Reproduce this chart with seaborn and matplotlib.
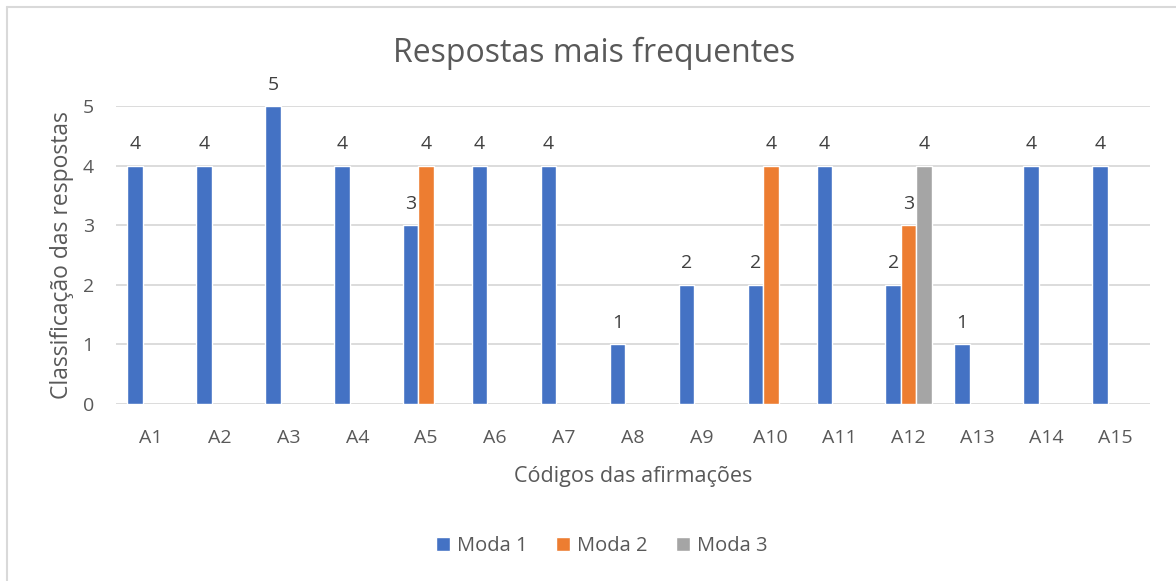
import numpy as np
import pandas as pd
import matplotlib
matplotlib.use("Agg")
import matplotlib.pyplot as plt
import seaborn as sns
from matplotlib.patches import Patch

# Data
codes = ["A1", "A2", "A3", "A4", "A5", "A6", "A7", "A8", "A9", "A10",
         "A11", "A12", "A13", "A14", "A15"]
moda_1 = [4, 4, 5, 4, 3, 4, 4, 1, 2, 2, 4, 2, 1, 4, 4]
moda_2 = [None, None, None, None, 4, None, None, None, None, 4,
          None, 3, None, None, None]
moda_3 = [None, None, None, None, None, None, None, None, None, None,
          None, 4, None, None, None]
series_names = ["Moda 1", "Moda 2", "Moda 3"]

colors = {"Moda 1": "#4472C4", "Moda 2": "#ED7D31", "Moda 3": "#A5A5A5"}
text_color = "#595959"
grid_color = "#D9D9D9"


def main():
    sns.set_theme(style="white")
    plt.rcParams['font.family'] = ['Open Sans', 'DejaVu Sans']

    rows = []
    for name, vals in zip(series_names, [moda_1, moda_2, moda_3]):
        for code, v in zip(codes, vals):
            if v is not None:
                rows.append({"Código": code, "Moda": name, "Valor": v})
    df = pd.DataFrame(rows)

    fig = plt.figure(figsize=(11.76, 5.81), dpi=100)
    ax = fig.add_axes([116 / 1176, 177 / 581, 1034 / 1176, 298 / 581])

    sns.barplot(data=df, x="Código", y="Valor", hue="Moda", order=codes,
                hue_order=series_names, palette=colors, saturation=1,
                width=0.675, edgecolor="white", linewidth=1.0, ax=ax,
                legend=False)

    for cont in ax.containers:
        ax.bar_label(cont, fmt="%g", padding=9, fontsize=14,
                     color="#404040", clip_on=False)

    ax.set_ylim(0, 5)
    ax.set_xlim(-0.5, len(codes) - 0.5)
    ax.set_yticks(range(6))
    ax.yaxis.grid(True, color=grid_color, linewidth=1.3)
    ax.set_axisbelow(True)
    for side in ["top", "right", "left", "bottom"]:
        ax.spines[side].set_visible(False)
    ax.tick_params(axis="both", length=0, labelsize=14, labelcolor=text_color)
    ax.tick_params(axis="y", pad=16)
    ax.tick_params(axis="x", pad=18)

    ax.set_ylabel("Classificação das respostas", fontsize=16.5, color=text_color,
                  labelpad=6)
    ax.set_xlabel("Códigos das afirmações", fontsize=15.5, color=text_color,
                  labelpad=14)
    fig.text(0.505, 1 - 53 / 581, "Respostas mais frequentes", fontsize=23,
             color=text_color, ha="center", va="center")

    handles = [Patch(facecolor=colors[n], label=n) for n in series_names]
    fig.legend(handles=handles, loc="center", bbox_to_anchor=(0.512, 1 - 546 / 581),
               ncol=3, frameon=False, fontsize=14.5, labelcolor=text_color,
               handlelength=0.7, handleheight=0.7, handletextpad=0.35,
               columnspacing=1.4)

    # chart area border (only top and left visible in the crop)
    fig.add_artist(plt.Line2D([7 / 1176, 7 / 1176], [0, 1 - 7 / 581],
                              transform=fig.transFigure, color=grid_color, lw=1.5))
    fig.add_artist(plt.Line2D([7 / 1176, 1], [1 - 7 / 581, 1 - 7 / 581],
                              transform=fig.transFigure, color=grid_color, lw=1.5))

    fig.savefig("out.png", dpi=100)


if __name__ == "__main__":
    main()
